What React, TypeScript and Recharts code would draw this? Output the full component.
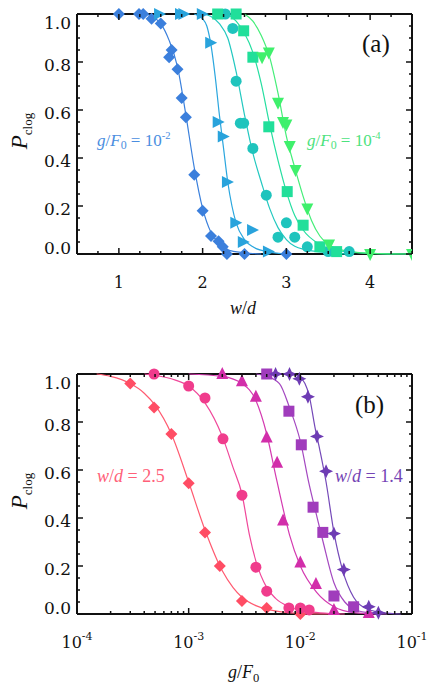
import React from "react"
import { ComposedChart, Scatter, XAxis, YAxis } from "recharts"

type Pt = { x: number; y: number }
const pts = (rows: number[][]): Pt[] => rows.map(([x, y]) => ({ x, y }))

// ---- panel (a): P_clog vs w/d ----
const aDiamonds = pts([[1.0, 1.0], [1.24, 1.0], [1.29, 1.0], [1.39, 0.98], [1.5, 0.96], [1.6, 0.82], [1.63, 0.85], [1.7, 0.77], [1.75, 0.65], [1.8, 0.57], [1.9, 0.33], [2.0, 0.18], [2.1, 0.075], [2.19, 0.053], [2.24, 0.03], [2.29, 0.0], [2.5, 0.0], [3.0, 0.0]])
const aTriRight = pts([[1.48, 1.0], [1.73, 1.0], [1.77, 1.0], [1.99, 1.0], [2.09, 0.88], [2.18, 0.55], [2.24, 0.49], [2.29, 0.3], [2.39, 0.13], [2.48, 0.05], [2.59, 0.1], [2.78, 0.01]])
const aCircles = pts([[2.27, 1.0], [2.36, 0.94], [2.4, 0.72], [2.45, 0.545], [2.49, 0.545], [2.6, 0.44], [2.76, 0.245], [2.9, 0.07], [3.0, 0.13], [3.1, 0.07], [3.25, 0.03], [3.5, 0.01], [3.75, 0.01]])
const aSquares = pts([[2.18, 1.0], [2.4, 1.0], [2.49, 0.93], [2.6, 0.82], [2.79, 0.53], [3.01, 0.26], [3.2, 0.12], [3.4, 0.03], [3.6, 0.01]])
const aTriDown = pts([[2.71, 0.82], [2.79, 0.84], [2.9, 0.63], [2.96, 0.55], [3.0, 0.54], [3.04, 0.45], [3.11, 0.35], [3.25, 0.19], [3.51, 0.04], [4.0, 0.0], [4.5, 0.0]])

// fitted curves
const aFitBlue = pts([[1.3, 1.0], [1.4, 0.99], [1.5, 0.96], [1.6, 0.89], [1.7, 0.78], [1.8, 0.58], [1.9, 0.36], [2.0, 0.19], [2.1, 0.09], [2.2, 0.045], [2.3, 0.017], [2.5, 0.005], [2.7, 0.0]])
const aFitSky = pts([[1.9, 1.0], [2.0, 0.98], [2.05, 0.95], [2.1, 0.87], [2.15, 0.74], [2.2, 0.58], [2.25, 0.44], [2.3, 0.3], [2.35, 0.2], [2.4, 0.13], [2.5, 0.06], [2.6, 0.03], [2.8, 0.008], [3.0, 0.0]])
const aFitTeal = pts([[2.0, 1.0], [2.1, 0.99], [2.2, 0.96], [2.3, 0.9], [2.4, 0.76], [2.5, 0.58], [2.6, 0.42], [2.7, 0.3], [2.8, 0.19], [2.9, 0.11], [3.0, 0.06], [3.2, 0.02], [3.5, 0.005], [3.8, 0.0]])
const aFitGreen = pts([[2.3, 1.0], [2.4, 0.97], [2.5, 0.92], [2.6, 0.84], [2.7, 0.71], [2.8, 0.54], [2.9, 0.39], [3.0, 0.26], [3.1, 0.16], [3.2, 0.1], [3.4, 0.04], [3.6, 0.015], [4.0, 0.003], [4.5, 0.0]])
const aFitLime = pts([[2.5, 1.0], [2.6, 0.97], [2.7, 0.91], [2.8, 0.82], [2.9, 0.67], [3.0, 0.49], [3.1, 0.36], [3.2, 0.24], [3.3, 0.14], [3.4, 0.075], [3.5, 0.04], [3.7, 0.014], [4.0, 0.003], [4.5, 0.0]])

// ---- panel (b): P_clog vs g/F0 ----
const bDiamonds = pts([[3e-4, 0.96], [4.9e-4, 0.86], [7e-4, 0.75], [1e-3, 0.545], [1.4e-3, 0.34], [1.9e-3, 0.2], [3e-3, 0.054], [5e-3, 0.025], [1e-2, 0.0]])
const bCircles = pts([[4.9e-4, 1.0], [1e-3, 0.95], [1.4e-3, 0.9], [2.03e-3, 0.73], [3e-3, 0.495], [4e-3, 0.195], [5e-3, 0.095], [7.9e-3, 0.025], [1e-2, 0.025], [1.2e-2, 0.017]])
const bTriUp = pts([[2e-3, 1.0], [3e-3, 0.97], [4e-3, 0.905], [5e-3, 0.735], [6.2e-3, 0.63], [7e-3, 0.39], [1e-2, 0.215], [1.38e-2, 0.125], [2e-2, 0.017], [4.1e-2, 0.004]])
const bSquares = pts([[5e-3, 1.0], [7.9e-3, 0.845], [1.02e-2, 0.705], [1.3e-2, 0.445], [1.59e-2, 0.34], [2e-2, 0.075], [3e-2, 0.03]])
const bStars = pts([[6e-3, 1.0], [8e-3, 1.0], [9.8e-3, 0.98], [1.17e-2, 0.905], [1.41e-2, 0.74], [1.7e-2, 0.595], [2e-2, 0.335], [2.45e-2, 0.185], [4.1e-2, 0.03], [5e-2, 0.005]])

const bFitRed = pts([[1.5e-4, 1.0], [2e-4, 0.99], [3e-4, 0.96], [4e-4, 0.92], [5e-4, 0.87], [7e-4, 0.75], [1e-3, 0.55], [1.4e-3, 0.35], [2e-3, 0.18], [2.5e-3, 0.11], [3e-3, 0.07], [4e-3, 0.035], [5e-3, 0.02], [7e-3, 0.008], [1e-2, 0.003], [2e-2, 0.0]])
const bFitPink = pts([[4e-4, 1.0], [7e-4, 0.98], [1e-3, 0.95], [1.4e-3, 0.88], [2e-3, 0.74], [2.5e-3, 0.61], [3e-3, 0.5], [3.5e-3, 0.33], [4e-3, 0.22], [5e-3, 0.11], [6e-3, 0.065], [8e-3, 0.03], [1e-2, 0.015], [1.5e-2, 0.005], [2.5e-2, 0.0]])
const bFitMagenta = pts([[1e-3, 1.0], [2e-3, 0.99], [3e-3, 0.96], [4e-3, 0.89], [5e-3, 0.75], [6e-3, 0.58], [7e-3, 0.44], [8e-3, 0.33], [1e-2, 0.2], [1.4e-2, 0.09], [2e-2, 0.03], [3e-2, 0.006], [5e-2, 0.0]])
const bFitPurple = pts([[4e-3, 1.0], [5e-3, 0.99], [6.5e-3, 0.96], [8e-3, 0.86], [1e-2, 0.72], [1.2e-2, 0.54], [1.4e-2, 0.41], [1.6e-2, 0.3], [2e-2, 0.13], [2.5e-2, 0.05], [3e-2, 0.02], [4e-2, 0.006], [6e-2, 0.0]])
const bFitViolet = pts([[7e-3, 1.0], [9e-3, 0.995], [1e-2, 0.985], [1.1e-2, 0.96], [1.2e-2, 0.91], [1.35e-2, 0.78], [1.5e-2, 0.68], [1.7e-2, 0.55], [2e-2, 0.34], [2.4e-2, 0.18], [3e-2, 0.07], [4e-2, 0.02], [6e-2, 0.004], [8e-2, 0.0]])

// ticks
const pTicks = [0, 0.05, 0.1, 0.15, 0.2, 0.25, 0.3, 0.35, 0.4, 0.45, 0.5, 0.55, 0.6, 0.65, 0.7, 0.75, 0.8, 0.85, 0.9, 0.95, 1.0]
const pLabels = [0, 0.2, 0.4, 0.6, 0.8, 1.0]
const wdTicks = [0.5, 0.75, 1, 1.25, 1.5, 1.75, 2, 2.25, 2.5, 2.75, 3, 3.25, 3.5, 3.75, 4, 4.25, 4.5]
const wdLabels = [1, 2, 3, 4]
const gTicks = [
  1e-4, 2e-4, 3e-4, 4e-4, 5e-4, 6e-4, 7e-4, 8e-4, 9e-4,
  1e-3, 2e-3, 3e-3, 4e-3, 5e-3, 6e-3, 7e-3, 8e-3, 9e-3,
  1e-2, 2e-2, 3e-2, 4e-2, 5e-2, 6e-2, 7e-2, 8e-2, 9e-2,
  1e-1,
]
const gLabels = [1e-4, 1e-3, 1e-2, 1e-1]

const TICK_FONT = "'DejaVu Serif', serif"
const FONT = "'Liberation Serif', serif"
const INK = "#111"

const near = (a: number, list: number[]) => list.some((v) => Math.abs(v - a) < Math.abs(a) * 1e-6 + 1e-9)

// marker shapes
const Diamond = (c: string) => (p: any) => (
  <polygon points={`${p.cx},${p.cy - 6} ${p.cx + 6},${p.cy} ${p.cx},${p.cy + 6} ${p.cx - 6},${p.cy}`} fill={c} />
)
const TriRight = (c: string) => (p: any) => (
  <polygon points={`${p.cx - 5},${p.cy - 6} ${p.cx + 7},${p.cy} ${p.cx - 5},${p.cy + 6}`} fill={c} />
)
const TriDown = (c: string) => (p: any) => (
  <polygon points={`${p.cx - 6},${p.cy - 5} ${p.cx + 6},${p.cy - 5} ${p.cx},${p.cy + 7}`} fill={c} />
)
const TriUp = (c: string) => (p: any) => (
  <polygon points={`${p.cx - 6},${p.cy + 5} ${p.cx + 6},${p.cy + 5} ${p.cx},${p.cy - 7}`} fill={c} />
)
const Dot = (c: string) => (p: any) => <circle cx={p.cx} cy={p.cy} r={5.5} fill={c} />
const Box = (c: string) => (p: any) => <rect x={p.cx - 5.5} y={p.cy - 5.5} width={11} height={11} fill={c} />
const Star = (c: string) => (p: any) => {
  const { cx, cy } = p
  const o = 7
  const i = 2.2
  return (
    <polygon
      points={`${cx},${cy - o} ${cx + i},${cy - i} ${cx + o},${cy} ${cx + i},${cy + i} ${cx},${cy + o} ${cx - i},${cy + i} ${cx - o},${cy} ${cx - i},${cy - i}`}
      fill={c}
    />
  )
}
const Nothing = () => <g />

// ticks point inward, on all four sides
const leftTick = (p: any) => {
  const v = p.payload.value
  const major = near(v, pLabels)
  const dy = v === 1 ? 9 : v === 0 ? -6 : 3
  return (
    <g>
      <line x1={p.x} y1={p.y} x2={p.x + (major ? 6 : 3)} y2={p.y} stroke={INK} strokeWidth={1.5} />
      {major && (
        <text x={p.x - 6} y={p.y + dy + 6} textAnchor="end" fontSize={17} fontFamily={TICK_FONT} fill={INK}>
          {v.toFixed(1)}
        </text>
      )}
    </g>
  )
}
const rightTick = (p: any) => {
  const major = near(p.payload.value, pLabels)
  return <line x1={p.x} y1={p.y} x2={p.x - (major ? 6 : 3)} y2={p.y} stroke={INK} strokeWidth={1.5} />
}
const wdBottomTick = (p: any) => {
  const v = p.payload.value
  const major = near(v, wdLabels)
  return (
    <g>
      <line x1={p.x} y1={p.y} x2={p.x} y2={p.y - (major ? 6 : 3)} stroke={INK} strokeWidth={1.5} />
      {major && (
        <text x={p.x} y={p.y + 34} textAnchor="middle" fontSize={16} fontFamily={TICK_FONT} fill={INK}>
          {v}
        </text>
      )}
    </g>
  )
}
const wdTopTick = (p: any) => {
  const major = near(p.payload.value, wdLabels)
  return <line x1={p.x} y1={p.y} x2={p.x} y2={p.y + (major ? 6 : 3)} stroke={INK} strokeWidth={1.5} />
}
const gBottomTick = (p: any) => {
  const v = p.payload.value
  const major = near(v, gLabels)
  return (
    <g>
      <line x1={p.x} y1={p.y} x2={p.x} y2={p.y - (major ? 6 : 3)} stroke={INK} strokeWidth={1.5} />
      {major && (
        <text x={p.x} y={p.y + 34} textAnchor="middle" fontSize={16} fontFamily={TICK_FONT} fill={INK}>
          10
          <tspan dy={-8} fontSize={11}>
            {Math.round(Math.log10(v))}
          </tspan>
        </text>
      )}
    </g>
  )
}
const gTopTick = (p: any) => {
  const major = near(p.payload.value, gLabels)
  return <line x1={p.x} y1={p.y} x2={p.x} y2={p.y + (major ? 6 : 3)} stroke={INK} strokeWidth={1.5} />
}

const axisLine = { stroke: INK, strokeWidth: 2 }
const W = 436
const H = 330
const margin = { top: 10, right: 20, bottom: 26, left: 0 }

function curve(data: Pt[], color: string, key: string) {
  return (
    <Scatter
      key={key}
      data={data}
      line={{ stroke: color, strokeWidth: 1.2 }}
      lineJointType="monotoneX"
      shape={Nothing}
      isAnimationActive={false}
    />
  )
}
function marks(data: Pt[], shape: any, key: string) {
  return <Scatter key={key} data={data} shape={shape} isAnimationActive={false} />
}

const Ann = ({ left, top, color, size = 17, children }: any) => (
  <div
    style={{
      position: "absolute",
      left,
      top,
      color,
      fontSize: size,
      fontFamily: FONT,
      whiteSpace: "nowrap",
      lineHeight: 1,
    }}
  >
    {children}
  </div>
)
const sub = { fontSize: "0.7em", verticalAlign: "-0.3em" }
const sup = { fontSize: "0.62em", verticalAlign: "0.65em" }

const YTitle = ({ top }: { top: number }) => (
  <div
    style={{
      position: "absolute",
      left: 21,
      top,
      transform: "translate(-50%, -50%) rotate(-90deg)",
      fontFamily: FONT,
      color: INK,
      whiteSpace: "nowrap",
      lineHeight: 1,
    }}
  >
    <i style={{ fontSize: 23 }}>P</i>
    <span style={{ fontSize: 13, verticalAlign: "-0.4em" }}>clog</span>
  </div>
)

export default function App() {
  return (
    <div style={{ position: "absolute", left: 0, top: 0, width: W, height: 690, background: "#fff" }}>
      <div style={{ position: "absolute", left: 0, top: 0 }}>
        <ComposedChart width={W} height={H} margin={margin}>
          <XAxis dataKey="x" type="number" domain={[0.5, 4.5]} ticks={wdTicks} interval={0} tick={wdBottomTick} tickLine={false} tickSize={0} tickMargin={0} axisLine={axisLine} height={50} allowDataOverflow />
          <XAxis xAxisId="t" orientation="top" dataKey="x" type="number" domain={[0.5, 4.5]} ticks={wdTicks} interval={0} tick={wdTopTick} tickLine={false} tickSize={0} tickMargin={0} axisLine={axisLine} height={4} allowDataOverflow />
          <YAxis dataKey="y" type="number" domain={[0, 1]} ticks={pTicks} interval={0} tick={leftTick} tickLine={false} tickSize={0} tickMargin={0} axisLine={axisLine} width={77} />
          <YAxis yAxisId="r" orientation="right" dataKey="y" type="number" domain={[0, 1]} ticks={pTicks} interval={0} tick={rightTick} tickLine={false} tickSize={0} tickMargin={0} axisLine={axisLine} width={4} allowDataOverflow />
          {curve(aFitBlue, "#3b80dc", "c1")}
          {curve(aFitSky, "#2aa6de", "c2")}
          {curve(aFitTeal, "#22c8c0", "c3")}
          {curve(aFitGreen, "#25dea0", "c4")}
          {curve(aFitLime, "#44ee78", "c5")}
          {marks(aDiamonds, Diamond("#3b7fdc"), "m1")}
          {marks(aTriRight, TriRight("#29a3dc"), "m2")}
          {marks(aCircles, Dot("#1fc4bd"), "m3")}
          {marks(aSquares, Box("#21df9a"), "m4")}
          {marks(aTriDown, TriDown("#3ff06c"), "m5")}
        </ComposedChart>
      </div>
      <div style={{ position: "absolute", left: 0, top: 360 }}>
        <ComposedChart width={W} height={H} margin={margin}>
          <XAxis dataKey="x" type="number" scale="log" domain={[1e-4, 1e-1]} ticks={gTicks} interval={0} tick={gBottomTick} tickLine={false} tickSize={0} tickMargin={0} axisLine={axisLine} height={50} allowDataOverflow />
          <XAxis xAxisId="t" orientation="top" dataKey="x" type="number" scale="log" domain={[1e-4, 1e-1]} ticks={gTicks} interval={0} tick={gTopTick} tickLine={false} tickSize={0} tickMargin={0} axisLine={axisLine} height={4} allowDataOverflow />
          <YAxis dataKey="y" type="number" domain={[0, 1]} ticks={pTicks} interval={0} tick={leftTick} tickLine={false} tickSize={0} tickMargin={0} axisLine={axisLine} width={77} />
          <YAxis yAxisId="r" orientation="right" dataKey="y" type="number" domain={[0, 1]} ticks={pTicks} interval={0} tick={rightTick} tickLine={false} tickSize={0} tickMargin={0} axisLine={axisLine} width={4} allowDataOverflow />
          {curve(bFitRed, "#ff5a70", "c1")}
          {curve(bFitPink, "#f0489a", "c2")}
          {curve(bFitMagenta, "#d43ab0", "c3")}
          {curve(bFitPurple, "#a448c0", "c4")}
          {curve(bFitViolet, "#7448b8", "c5")}
          {marks(bDiamonds, Diamond("#ff4d64"), "m1")}
          {marks(bCircles, Dot("#f03c8c"), "m2")}
          {marks(bTriUp, TriUp("#d22eaa"), "m3")}
          {marks(bSquares, Box("#a03cbc"), "m4")}
          {marks(bStars, Star("#6e3cb4"), "m5")}
        </ComposedChart>
      </div>

      {/* panel (a) annotations */}
      <Ann left={362} top={31} color={INK} size={25}>(a)</Ann>
      <Ann left={97} top={131} color="#4a8ee0">
        <i>g</i>/<i>F</i><span style={sub}>0</span> = 10<span style={sup}>-2</span>
      </Ann>
      <Ann left={307} top={131} color="#4ce27e">
        <i>g</i>/<i>F</i><span style={sub}>0</span> = 10<span style={sup}>-4</span>
      </Ann>
      <YTitle top={131} />
      <Ann left={230} top={299} color={INK} size={18}>
        <i>w</i>/<i>d</i>
      </Ann>

      {/* panel (b) annotations */}
      <Ann left={355} top={392} color={INK} size={25}>(b)</Ann>
      <Ann left={97} top={467} color="#ff6078" size={18}>
        <i>w</i>/<i>d</i> = 2.5
      </Ann>
      <Ann left={335} top={467} color="#7444b4" size={18}>
        <i>w</i>/<i>d</i> = 1.4
      </Ann>
      <YTitle top={491} />
      <Ann left={228} top={663} color={INK} size={18}>
        <i>g</i>/<i>F</i><span style={sub}>0</span>
      </Ann>
    </div>
  )
}
